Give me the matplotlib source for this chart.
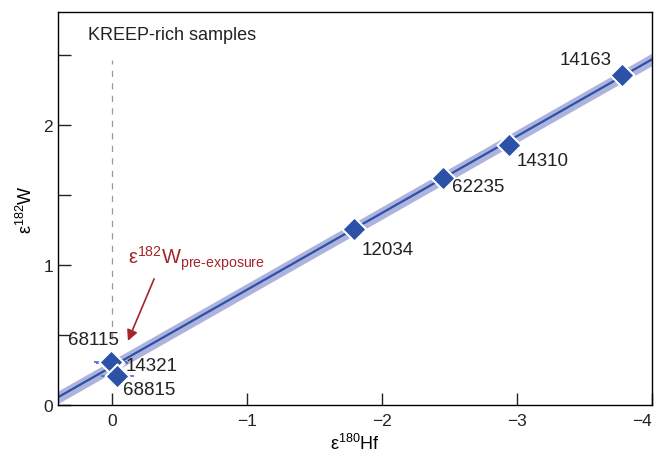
import matplotlib.pyplot as plt
import numpy as np

plt.rcParams["font.family"] = ["Liberation Sans", "DejaVu Sans"]
plt.rcParams["mathtext.fontset"] = "custom"
plt.rcParams["mathtext.rm"] = "Liberation Sans"
plt.rcParams["mathtext.it"] = "Liberation Sans"

# sample data
samples = ["14163", "14310", "62235", "12034", "14321", "68115", "68815"]
hf = [-3.78, -2.94, -2.45, -1.79, 0.00, 0.01, -0.04]
w = [2.36, 1.86, 1.62, 1.26, 0.30, 0.31, 0.21]
w_err = [0.06, 0.07, 0.07, 0.07, 0.05, 0.05, 0.06]
hf_err = [0.02, 0.02, 0.02, 0.02, 0.12, 0.12, 0.12]

# label positions (x, y, ha)
label_pos = {
    "14163": (-3.70, 2.47, "right"),
    "14310": (-3.00, 1.75, "left"),
    "62235": (-2.52, 1.56, "left"),
    "12034": (-1.85, 1.11, "left"),
    "14321": (-0.10, 0.28, "left"),
    "68115": (0.14, 0.47, "center"),
    "68815": (-0.08, 0.11, "left"),
}

fit_intercept = 0.275
fit_slope = -0.549
fit_band = 0.045

blue = "#2b52a6"
band = "#aeb3de"
red = "#a2262c"

fig = plt.figure(figsize=(6.56, 4.56), dpi=100)
ax = fig.add_axes([0.0884, 0.1096, 0.9055, 0.862])

xs = np.array([0.4, -4.0])
ys = fit_intercept + fit_slope * xs
ax.fill_between(xs, ys - fit_band, ys + fit_band, color=band, lw=0, zorder=1)
ax.plot(xs, ys, color=blue, lw=1.6, zorder=2)

ax.plot([0, 0], [0.47, 2.47], ls=(0, (5, 5)), color="#999999", lw=0.9, zorder=0)

ax.errorbar(hf, w, yerr=w_err, xerr=hf_err, fmt="none", ecolor="#4a6cc0",
            elinewidth=1.2, ls="none", zorder=3, dashes=(2, 2))
ax.scatter(hf, w, marker="D", s=150, color=blue, edgecolor="white",
           linewidth=1.5, zorder=4)

for name in samples:
    x, y, ha = label_pos[name]
    ax.text(x, y, name, fontsize=13.5, ha=ha, va="center", color="#222222", zorder=5)

ax.text(0.18, 2.65, "KREEP-rich samples", fontsize=13, ha="left", va="center",
        color="#222222")

ax.annotate("", xy=(-0.11, 0.44), xytext=(-0.32, 0.92),
            arrowprops=dict(arrowstyle="-|>", color=red, lw=1.2,
                            mutation_scale=16))
ax.text(-0.12, 0.95, r"ε$^{182}$W$_{\mathrm{pre\text{-}exposure}}$",
        fontsize=14.5, color=red, ha="left", va="bottom")

ax.set_xlim(0.4, -4.0)
ax.set_ylim(0, 2.81)
ax.set_xticks([0, -1, -2, -3, -4])
ax.set_xticklabels(["0", "−1", "−2", "−3", "−4"])
ax.get_xticklabels()[-1].set_horizontalalignment("right")
ax.set_yticks([0, 1, 2])
ax.set_yticks([0.5, 1.5, 2.5], minor=True)
ax.tick_params(axis="both", which="both", direction="in", labelsize=12.5,
               colors="#222222", width=1)
ax.tick_params(axis="both", which="major", length=9)
ax.tick_params(axis="y", which="minor", length=9)
ax.tick_params(axis="x", pad=6)

ax.set_xlabel("ε$^{180}$Hf", fontsize=13, labelpad=3)
ax.set_ylabel("ε$^{182}$W", fontsize=13, labelpad=5)

for s in ax.spines.values():
    s.set_linewidth(1)

fig.savefig("out.png", dpi=100)
